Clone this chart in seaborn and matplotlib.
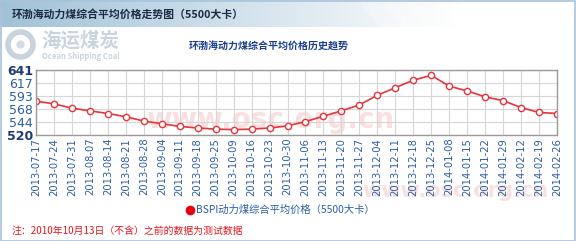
import numpy as np
import pandas as pd
import matplotlib
matplotlib.use("Agg")
import matplotlib.pyplot as plt
import seaborn as sns
from matplotlib.patches import Rectangle
from matplotlib.lines import Line2D

dates = ["2013-07-17", "2013-07-24", "2013-07-31", "2013-08-07", "2013-08-14", "2013-08-21",
         "2013-08-28", "2013-09-04", "2013-09-11", "2013-09-18", "2013-09-25", "2013-10-09",
         "2013-10-16", "2013-10-23", "2013-10-30", "2013-11-06", "2013-11-13", "2013-11-20",
         "2013-11-27", "2013-12-04", "2013-12-11", "2013-12-18", "2013-12-25", "2014-01-08",
         "2014-01-15", "2014-01-22", "2014-01-29", "2014-02-12", "2014-02-19", "2014-02-26"]
prices = [583, 578, 570, 565, 560, 554, 546, 541, 536, 533, 531, 530,
          531, 533, 537, 545, 555, 565, 576, 594, 608, 622, 631, 611,
          602, 591, 584, 571, 562, 560]
yticks = [520, 544, 568, 593, 617, 641]

header_title = "环渤海动力煤综合平均价格走势图（5500大卡）"
chart_title = "环渤海动力煤综合平均价格历史趋势"
legend_label = "BSPI动力煤综合平均价格（5500大卡）"
note_text = "注：2010年10月13日（不含）之前的数据为测试数据"

sns.set_style("white")
plt.rcParams['font.family'] = ['Noto Sans CJK SC', 'DejaVu Sans']

W, H = 576, 241
fig = plt.figure(figsize=(W / 100, H / 100), dpi=100)
fig.patch.set_facecolor("white")

def fx(px):
    return px / W

def fy(py):
    return 1 - py / H

# header gradient bar
bg = fig.add_axes([0, fy(27), 1, 27 / H], zorder=0)
grad = np.linspace(0, 1, 256)
k = np.clip(grad * 1.25, 0, 1)
r = 0.63 + 0.37 * k
g = 0.76 + 0.24 * k
b = 0.84 + 0.16 * k
img = np.dstack([r, g, b])
img = np.repeat(img, 2, axis=0)
bg.imshow(img, aspect="auto", extent=[0, 1, 0, 1])
for x0 in [0.62, 0.66, 0.7]:
    bg.fill([x0, x0 + 0.06, x0 + 0.1, x0 + 0.04], [1, 1, 0, 0], color="white", alpha=0.25, lw=0)
bg.set_xlim(0, 1)
bg.set_ylim(0, 1)
bg.axis("off")

fig.text(fx(12), fy(14), header_title, fontsize=7.8, color="#1b2b45",
         va="center", ha="left", fontweight="bold")

# logo
fig.add_artist(Line2D([fx(20)], [fy(44)], transform=fig.transFigure, marker="o",
                      markersize=18, markerfacecolor="none", markeredgecolor="#c8d3de",
                      markeredgewidth=4, zorder=1))
fig.add_artist(Line2D([fx(20)], [fy(44)], transform=fig.transFigure, marker="o",
                      markersize=6, markerfacecolor="#d3dce6", markeredgecolor="none",
                      zorder=1))
fig.text(fx(41), fy(41), "海运煤炭", fontsize=14, color="#c9d4df", fontweight="bold",
         va="center", ha="left")
fig.text(fx(42), fy(56), "Ocean Shipping Coal", fontsize=5.5, color="#c9d4df",
         va="center", ha="left", fontweight="bold")

fig.text(fx(269), fy(47), chart_title, fontsize=7.2, color="#1a3f8f",
         va="center", ha="center", fontweight="bold")

# watermarks
wm = dict(color="#f9e0e0", fontweight="bold", family="DejaVu Sans",
          va="center", ha="left", zorder=1)
fig.text(fx(146), fy(120), "www.osc.org.cn", fontsize=20, **wm)
fig.text(fx(362), fy(191), "www.osc.org.cn", fontsize=15, **wm)

# main chart
ax = fig.add_axes([fx(36), fy(135), fx(557) - fx(36), (135 - 70) / H], zorder=2)
ax.patch.set_alpha(0)
df = pd.DataFrame({"date": dates, "price": prices})
red = "#e8343c"
sns.lineplot(data=df, x="date", y="price", ax=ax, color=red, lw=1.2, sort=False,
             marker="o", markersize=4.5, markerfacecolor="white",
             markeredgecolor=red, markeredgewidth=1.0)
ax.set_xlim(0, len(dates) - 1)
ax.set_ylim(yticks[0], yticks[-1])
ax.set_yticks(yticks)
ax.set_yticklabels([str(v) for v in yticks])
ax.set_xticks(range(len(dates)))
ax.set_xticklabels(dates, rotation=90, fontsize=7.2, color="#2b5ea8",
                   family="DejaVu Sans")
for i, t in enumerate(ax.get_yticklabels()):
    t.set_fontsize(9)
    t.set_family("DejaVu Sans")
    if i in (0, len(yticks) - 1):
        t.set_fontweight("bold")
        t.set_color("#1b3a78")
    else:
        t.set_color("#2b5ea8")
ax.tick_params(axis="both", length=0, pad=2)
ax.set_xlabel("")
ax.set_ylabel("")
ax.grid(True, color="#d6d6d6", lw=0.8)
ax.set_axisbelow(True)
for s in ax.spines.values():
    s.set_color("#9a9a9a")
    s.set_linewidth(1.0)

# legend
fig.add_artist(Line2D([fx(190)], [fy(210)], transform=fig.transFigure, marker="o",
                      markersize=7, markerfacecolor="#e8000c", markeredgecolor="none",
                      zorder=3))
fig.text(fx(196), fy(210), legend_label, fontsize=7.4, color="#2b5ea8",
         va="center", ha="left")

fig.text(fx(12), fy(231), note_text, fontsize=7.1, color="#e8161c",
         va="center", ha="left")

# outer border
fig.patches.append(Rectangle((0.5 / W, 0.5 / H), 1 - 1.5 / W, 1 - 1.5 / H,
                             transform=fig.transFigure, fill=False,
                             edgecolor="#a9c2dc", lw=1.2, zorder=5))

fig.savefig("out.png", dpi=100)
